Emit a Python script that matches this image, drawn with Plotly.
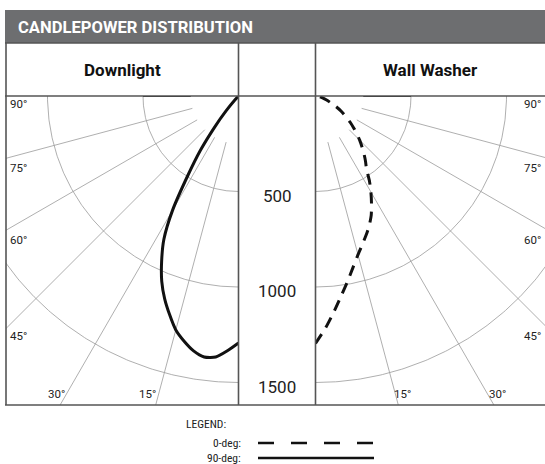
import numpy as np
import plotly.graph_objects as go

W, H = 545, 464

# Candlepower readings (cd) by vertical angle (deg from nadir)
dl_angles = [0, 2.5, 5, 7.5, 10, 12.5, 15, 17.5, 20, 22.5, 25, 27.5, 30, 32.5, 35, 37.5, 40, 42.5, 45]
dl_cd = [1293, 1335, 1372, 1378, 1355, 1315, 1268, 1200, 1130, 1050, 952, 846, 690, 495, 350, 205, 100, 30, 0]

ww_angles = [0, 2.5, 5, 7.5, 10, 12.5, 15, 17.5, 20, 22.5, 25, 27.5, 30, 32.5, 35, 37.5, 40, 42.5, 45,
             47.5, 50, 52.5, 55, 57.5, 60, 62.5, 65, 70, 75, 80, 85, 90]
ww_cd = [1295, 1215, 1130, 1050, 980, 915, 860, 815, 775, 735, 690, 635, 580, 525, 465, 430, 395, 360, 327,
         295, 262, 232, 200, 175, 150, 122, 97, 62, 38, 20, 8, 0]

ring_values = [500, 1000, 1500]
spoke_angles = [15, 30, 45, 60, 75]
side_labels = ["90°", "75°", "60°", "45°"]
bottom_labels = ["30°", "15°"]

NARROW = "Liberation Sans Narrow, Roboto Condensed, DejaVu Sans Condensed, Arial Narrow, Roboto, sans-serif"
SANS = "Roboto, Liberation Sans, Arial, sans-serif"
GRID = "#9a9a9a"
BORDER = "#555555"

# pixels per candela on both panels
S = 0.191
TOP, BOTTOM = 96, 405
L_LEFT, L_RIGHT = 6, 238.5
R_LEFT, R_RIGHT = 315.5, 545


def px(x):
    return x / W


def py(y):
    return 1 - y / H


def polar_xy(theta_deg, r, side):
    t = np.radians(np.asarray(theta_deg, dtype=float))
    r = np.asarray(r, dtype=float)
    return side * r * np.sin(t), -r * np.cos(t)


fig = go.Figure()

for side, xa, ya in [(-1, "x", "y"), (1, "x2", "y2")]:
    # rings
    th = np.linspace(0, 90, 181)
    for rv in ring_values:
        x, y = polar_xy(th, np.full_like(th, rv), side)
        fig.add_trace(go.Scatter(x=x, y=y, mode="lines", xaxis=xa, yaxis=ya,
                                 line=dict(color=GRID, width=0.8), hoverinfo="skip", showlegend=False))
    # spokes
    for a in spoke_angles:
        x, y = polar_xy([a, a], [250, 2500], side)
        fig.add_trace(go.Scatter(x=x, y=y, mode="lines", xaxis=xa, yaxis=ya,
                                 line=dict(color=GRID, width=0.8), hoverinfo="skip", showlegend=False))
    x, y = polar_xy([90, 90], [250, 500], side)
    fig.add_trace(go.Scatter(x=x, y=y, mode="lines", xaxis=xa, yaxis=ya,
                             line=dict(color="#222222", width=2.2), hoverinfo="skip", showlegend=False))

# 90-deg plane (downlight)
x, y = polar_xy(dl_angles, dl_cd, -1)
fig.add_trace(go.Scatter(x=x, y=y, mode="lines", xaxis="x", yaxis="y", name="90-deg",
                         line=dict(color="#111111", width=3, shape="spline", smoothing=0.6),
                         showlegend=False))

# 0-deg plane (wall washer)
x, y = polar_xy(ww_angles, ww_cd, 1)
fig.add_trace(go.Scatter(x=x, y=y, mode="lines", xaxis="x2", yaxis="y2", name="0-deg",
                         line=dict(color="#111111", width=3, dash="11px,8px", shape="spline", smoothing=0.6),
                         showlegend=False))

axis_common = dict(visible=False, showgrid=False, zeroline=False, fixedrange=True)
fig.update_layout(
    width=W, height=H,
    margin=dict(l=0, r=0, t=0, b=0),
    paper_bgcolor="white", plot_bgcolor="rgba(0,0,0,0)",
    xaxis=dict(domain=[px(L_LEFT), px(L_RIGHT)], range=[-(L_RIGHT - L_LEFT) / S, 0], **axis_common),
    yaxis=dict(domain=[py(BOTTOM), py(TOP)], range=[-(BOTTOM - TOP) / S, 0], **axis_common),
    xaxis2=dict(domain=[px(R_LEFT), px(R_RIGHT)], range=[0, (R_RIGHT - R_LEFT) / S], anchor="y2", **axis_common),
    yaxis2=dict(domain=[py(BOTTOM), py(TOP)], range=[-(BOTTOM - TOP) / S, 0], anchor="x2", **axis_common),
    showlegend=False,
)

shapes = []
# header bar
shapes.append(dict(type="rect", xref="paper", yref="paper", x0=px(5), x1=1, y0=py(43), y1=py(10),
                   fillcolor="#6d6e70", line=dict(width=0), layer="below"))
# table rules
for yy in [43, TOP, BOTTOM]:
    shapes.append(dict(type="line", xref="paper", yref="paper", x0=px(5), x1=1, y0=py(yy), y1=py(yy),
                       line=dict(color=BORDER, width=1.6), layer="above"))
for xx in [L_LEFT, L_RIGHT, R_LEFT]:
    shapes.append(dict(type="line", xref="paper", yref="paper", x0=px(xx), x1=px(xx), y0=py(43), y1=py(BOTTOM),
                       line=dict(color=BORDER, width=1.6), layer="above"))
# legend samples
shapes.append(dict(type="line", xref="paper", yref="paper", x0=px(258), x1=px(374), y0=py(443), y1=py(443),
                   line=dict(color="#111111", width=2.5, dash="16px,17px")))
shapes.append(dict(type="line", xref="paper", yref="paper", x0=px(258), x1=px(374), y0=py(458), y1=py(458),
                   line=dict(color="#111111", width=2.5)))
fig.update_layout(shapes=shapes)

ann = []


def text(x, y, s, size, xanchor="center", bold=False, color="#222222", family=NARROW):
    ann.append(dict(xref="paper", yref="paper", x=px(x), y=py(y), text=f"<b>{s}</b>" if bold else s,
                    showarrow=False, xanchor=xanchor, yanchor="middle",
                    font=dict(family=family, size=size, color=color)))


text(16, 27, "CANDLEPOWER DISTRIBUTION", 16.6, xanchor="left", bold=True, color="white", family=SANS)
text((L_LEFT + L_RIGHT) / 2, 70, "Downlight", 17, bold=True, color="#111111", family=SANS)
text((R_LEFT + R_RIGHT) / 2, 70, "Wall Washer", 17, bold=True, color="#111111", family=SANS)

for rv, yy in zip(ring_values, [196, 291, 387]):
    text((L_RIGHT + R_LEFT) / 2, yy, str(rv), 17, color="#222222", family=SANS)

for lab, yy in zip(side_labels, [104, 168, 240, 336]):
    text(8, yy, lab, 11.5, xanchor="left", family=SANS)
    text(543, yy, lab, 11.5, xanchor="right", family=SANS)
for lab, xl, xr in zip(bottom_labels, [67, 158], [508, 413]):
    text(xl, 394, lab, 11.5, xanchor="right", family=SANS)
    text(xr, 394, lab, 11.5, xanchor="right", family=SANS)

text(184, 424, "LEGEND:", 11.5, xanchor="left")
text(243, 443, "0-deg:", 11.5, xanchor="right")
text(243, 458, "90-deg:", 11.5, xanchor="right")

fig.update_layout(annotations=ann)
fig.write_html("out.html")
